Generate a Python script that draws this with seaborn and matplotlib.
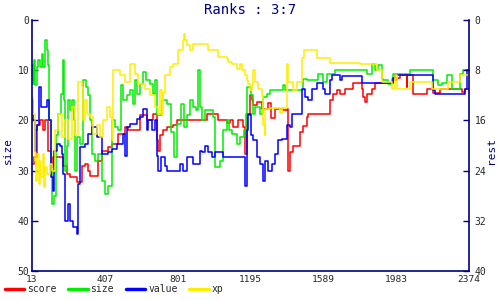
import matplotlib
matplotlib.use("Agg")
import matplotlib.pyplot as plt
import seaborn as sns
import pandas as pd

# ---- data (x = turn, y = rank) ----
score_x = [13, 24, 38, 56, 70, 83, 101, 114, 124, 182, 200, 218, 254, 281, 299, 317, 326, 371, 389,
           425, 443, 479, 515, 533, 578, 596, 633, 669, 687, 696, 705, 723, 741, 777, 795, 957, 1020,
           1065, 1083, 1101, 1128, 1155, 1164, 1173, 1191, 1200, 1209, 1227, 1254, 1290, 1303, 1326,
           1371, 1389, 1398, 1407, 1425, 1461, 1479, 1497, 1506, 1623, 1641, 1659, 1677, 1704, 1749,
           1794, 1803, 1812, 1825, 1848, 1866, 1965, 1983, 2001, 2037, 2041, 2073, 2145, 2181, 2217,
           2334, 2352, 2374]
score_y = [28.7, 27.3, 21, 20, 22, 20, 26, 29.3, 27.3, 29, 30.7, 31.3, 32.3, 29, 28.7, 30, 31, 28, 26,
           25.3, 24.7, 22.7, 21.3, 22, 22, 19, 19.9, 18.7, 24, 26, 23, 22, 21.3, 21, 19.9, 18.7, 19.9,
           20.5, 20, 21.3, 19.9, 21.3, 26.7, 19, 15, 16, 17, 16.3, 17.7, 16.5, 19.5, 17.7,
           18, 17.7, 30, 26.3, 25, 22.3, 21.2, 19.3, 18.7, 16, 14.7, 14, 14.8, 13.7, 12.5,
           13.7, 15.3, 16.3, 14.8, 13.7, 12.5, 12, 11.5, 11, 13.3, 11, 14.8, 13.7, 14.5, 13.7,
           14.3, 13.7, 13.7]

size_x = [13, 20, 25, 31, 38, 47, 56, 65, 74, 83, 92, 101, 106, 114, 121, 132, 142, 155, 168, 182,
          187, 193, 200, 209, 218, 229, 240, 247, 258, 272, 290, 304, 317, 326, 335, 353, 371, 389,
          407, 425, 443, 461, 479, 492, 506, 524, 542, 556, 571, 582, 597, 615, 629, 651, 665, 678,
          691, 714, 741, 763, 781, 799, 817, 835, 853, 867, 881, 899, 912, 921, 930, 948, 975, 990,
          1002, 1029, 1047, 1065, 1080, 1092, 1119, 1137, 1159, 1170, 1177, 1195, 1205, 1218, 1245,
          1263, 1281, 1299, 1371, 1380, 1479, 1497, 1560, 1587, 1605, 1650, 1821, 1848, 1866, 1884,
          1902, 1911, 1938, 1956, 1965, 2055, 2181, 2208, 2226, 2253, 2280, 2325, 2343, 2374]
size_y = [9, 12.7, 8, 13, 9.3, 8, 9.3, 6.7, 9.3, 4, 6, 9, 20, 30, 36.7, 35, 23, 18.7, 14.7, 8,
          16, 30, 25, 16, 18, 16, 20, 30, 23.3, 24.7, 12, 13.3, 15, 20, 26.7, 28, 26.7, 32,
          34.7, 33, 20, 21.3, 22, 13, 16, 15, 14, 16.7, 12, 14.7, 12.7, 10.3, 12, 12.7, 14.7, 12,
          19, 16, 16.7, 22.3, 27.3, 20.7, 16.7, 21.3, 19, 16, 17.3, 18, 10, 17.3, 20, 18, 18, 19.3,
          29.3, 28, 22, 20, 22, 22.7, 24.7, 23.3, 22, 18.7, 13.3, 15, 18.7, 17.3, 18.7,
          15.3, 14.8, 13.9, 13, 13.9, 11.7, 11.9, 10.8, 12.3, 10.8, 9.9, 10.7, 8.7, 10, 9,
          11.7, 12, 12.7, 11.7, 10.8, 9.9, 11.9, 13, 12.5, 11, 13.7, 10.7, 10, 10]

value_x = [13, 20, 27, 34, 42, 52, 63, 74, 92, 103, 114, 124, 132, 146, 164, 173, 182, 193, 209, 218,
           232, 254, 263, 272, 299, 317, 335, 362, 389, 425, 443, 470, 506, 515, 524, 542, 578, 597,
           615, 633, 642, 660, 678, 687, 696, 709, 732, 741, 813, 831, 849, 885, 921, 930, 948, 966,
           984, 1002, 1047, 1110, 1164, 1173, 1182, 1195, 1209, 1227, 1245, 1263, 1272, 1290, 1308,
           1326, 1344, 1362, 1389, 1407, 1420, 1470, 1488, 1506, 1524, 1551, 1587, 1596, 1623, 1632,
           1677, 1686, 1794, 1965, 1974, 2181, 2190, 2352, 2361, 2374]
value_y = [16, 20, 26, 22, 21, 13.3, 17.3, 17.3, 16, 20, 31.3, 34, 26, 24.7, 25, 26.7, 30.7, 40, 36.7, 40,
           41.3, 42.7, 32.7, 25.3, 24.7, 22.7, 21.3, 23.3, 26.7, 26.3, 25.7, 24.7, 22.7, 27, 21.3, 20.7, 19.7, 19.3,
           17.7, 22, 20, 22, 20, 27, 30, 27.3, 29, 30, 28.7, 30, 27.3, 28.7, 26, 26.3, 25, 26.3,
           27.3, 26.3, 27.3, 27.3, 33, 22, 18.7, 23, 24, 27.3, 28.7, 32, 28, 30, 28.7,
           26.7, 24, 23.7, 21, 21.3, 18.7, 13.7, 15.3, 16, 13.7, 12.5, 13.7, 14.8, 12, 11,
           12, 11.1, 12.5, 11.5, 11, 14, 14.8, 13.7, 10, 10]

xp_x = [13, 20, 27, 34, 42, 49, 56, 63, 70, 78, 85, 96, 110, 121, 137, 155, 173, 191, 209, 227, 245,
        263, 281, 290, 299, 312, 326, 344, 362, 380, 398, 416, 434, 443, 452, 488, 515, 542, 569, 587,
        597, 624, 651, 678, 696, 705, 714, 723, 732, 759, 777, 804, 827, 835, 842, 849, 867, 885, 966,
        1020, 1065, 1074, 1092, 1119, 1137, 1146, 1164, 1173, 1182, 1191, 1200, 1209, 1218, 1236, 1254,
        1263, 1270, 1274, 1299, 1353, 1362, 1389, 1394, 1425, 1443, 1470, 1483, 1551, 1623, 1785, 1875,
        1902, 1956, 1974, 1983, 2055, 2172, 2262, 2325, 2374]
xp_y = [15.3, 18.7, 28, 32, 26.7, 32.7, 28, 31.3, 26.7, 33.3, 29.3, 30.7, 28.7, 30, 22, 18.7, 23.3, 20, 23.7, 17.3, 23,
        12.3, 13.3, 20, 16, 18.7, 19.3, 22.7, 21, 23.3, 20, 17.3, 19.3, 24, 10, 11, 12.3, 8.7, 10.7, 12.7,
        12.7, 13.7, 15, 17.3, 18.7, 14, 19, 14.5, 11, 9.3, 8.7, 6, 4, 2.7, 4, 5, 6, 4.8, 6,
        7.3, 7.7, 8.3, 8.7, 9.7, 8.7, 10, 11, 12, 12.7, 14, 13, 10, 12.3, 13.7, 15,
        21, 23, 17.7, 17.5, 18.5, 17.5, 8.7, 12.3, 14, 12.3, 7.5, 6, 7.5, 8.5, 8.7, 10,
        12.3, 13.7, 11, 13.7, 12.3, 13.7, 12.3, 11, 11]

series_names = ["score", "size", "value", "xp"]
series_colors = ["#ff0000", "#00ee00", "#0000ff", "#ffee00"]
x_ticks = [13, 407, 801, 1195, 1589, 1983, 2374]
left_ticks = [0, 10, 20, 30, 40, 50]
right_ticks = [0, 8, 16, 24, 32, 40]

frames = []
for name, xs, ys in zip(series_names, [score_x, size_x, value_x, xp_x],
                        [score_y, size_y, value_y, xp_y]):
    frames.append(pd.DataFrame({"turn": xs, "rank": ys, "series": name}))
df = pd.concat(frames, ignore_index=True)

sns.set_style("white")
plt.rcParams["font.family"] = ["DejaVu Sans Mono", "DejaVu Sans"]
navy = "#000080"

fig = plt.figure(figsize=(5, 3), dpi=100)
ax = fig.add_axes([0.064, 0.097, 0.874, 0.836])
sns.lineplot(data=df, x="turn", y="rank", hue="series", hue_order=series_names,
             palette=dict(zip(series_names, series_colors)), estimator=None, sort=False,
             drawstyle="steps-post", linewidth=1.1, ax=ax, legend=False)

ax.set_xlim(13, 2374)
ax.set_ylim(50, 0)
ax.set_xticks(x_ticks)
ax.set_xticklabels([str(t) for t in x_ticks])
ax.set_yticks(left_ticks)
ax.set_xlabel("")
ax.set_ylabel("")
ax.tick_params(direction="in", length=4, width=1, color=navy, labelsize=7, pad=2)
ax.tick_params(axis="x", labelsize=6.8, pad=3)

ax2 = ax.twinx()
ax2.set_ylim(40, 0)
ax2.set_yticks(right_ticks)
ax2.set_ylabel("")
ax2.tick_params(direction="in", length=4, width=1, color=navy, labelsize=7, pad=4)

for a in (ax, ax2):
    a.spines["top"].set_visible(False)
    for s in ("left", "right", "bottom"):
        a.spines[s].set_color(navy)
        a.spines[s].set_linewidth(1.2)
ax.spines["right"].set_visible(False)
ax2.spines["left"].set_visible(False)
ax2.spines["bottom"].set_visible(False)

fig.text(0.5, 0.965, "Ranks : 3:7", ha="center", va="center", color=navy, fontsize=10)
fig.text(8 / 500, 0.5, "size", ha="center", va="center", rotation=90, color=navy, fontsize=8)
fig.text(491 / 500, 0.5, "rest", ha="center", va="center", rotation=90, color=navy, fontsize=8)

handles = [plt.Line2D([], [], color=c, linewidth=2.5) for c in series_colors]
fig.legend(handles, series_names, loc="lower left", bbox_to_anchor=(-0.008, -0.01), ncol=4,
           frameon=False, fontsize=7, handlelength=2.0, handletextpad=0.3, columnspacing=1.2)

fig.savefig("out.png", dpi=100)
